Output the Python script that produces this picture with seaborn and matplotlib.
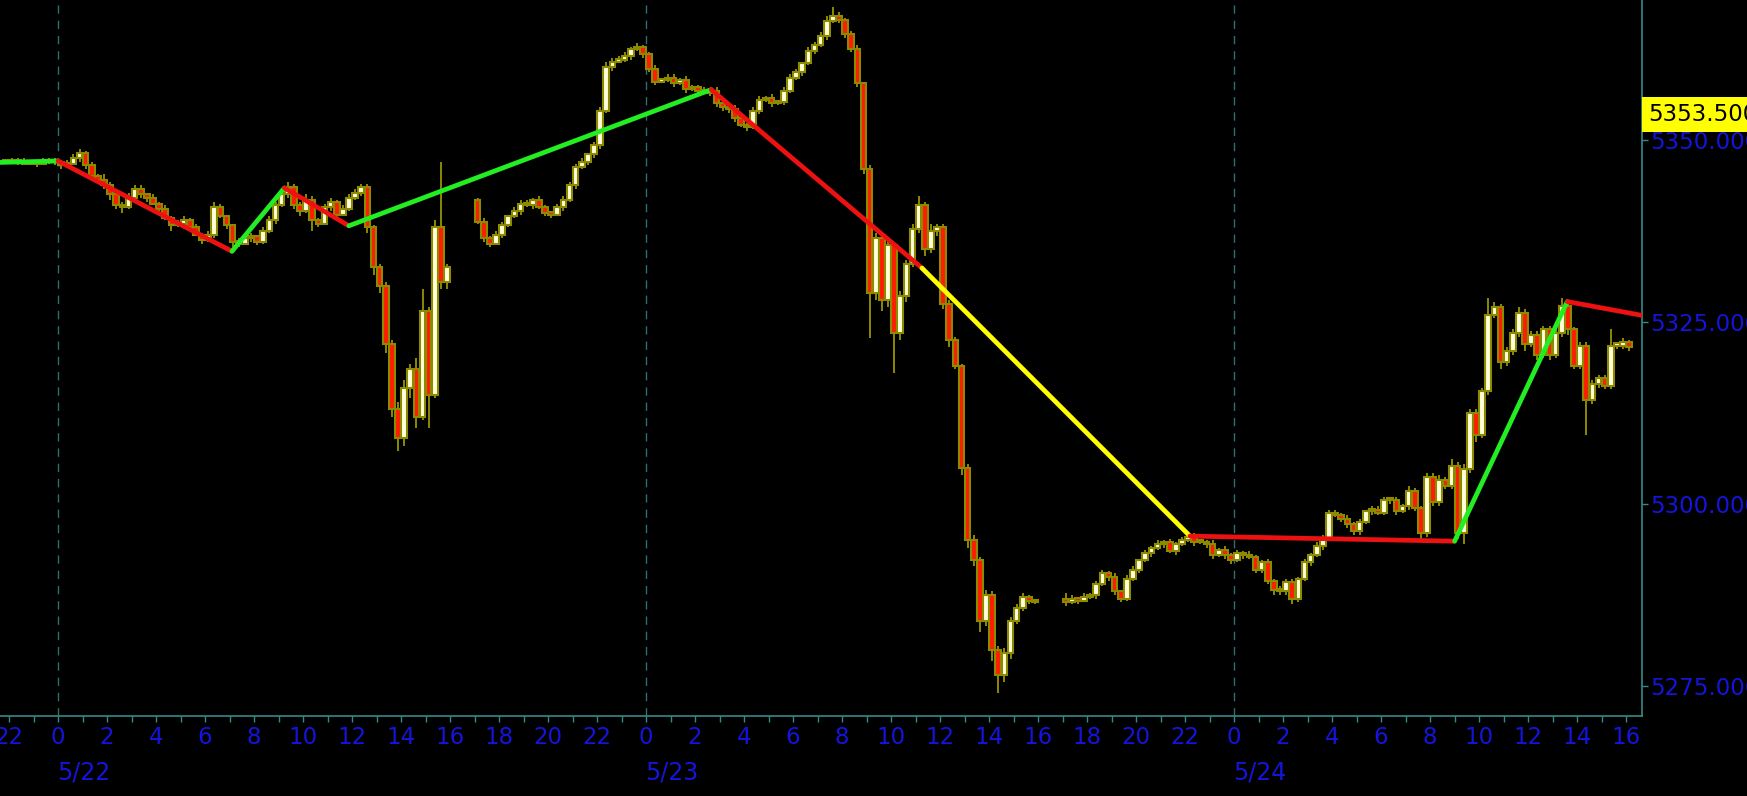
import numpy as np
import pandas as pd
import matplotlib
matplotlib.use("Agg")
import matplotlib.pyplot as plt
import matplotlib.transforms as mtransforms
import seaborn as sns

# 15 minute candles, hours counted from 5/22 00:00
# session 1: 5/21 21:45 -> 5/22 16:00
start_a = -2.25
open_a = 5347.0
close_a = [5347.0,
    5347.25, 5347.0, 5346.75, 5347.0,
    5346.75, 5347.0, 5347.25, 5347.0,
    5346.5, 5346.75, 5347.5, 5348.25,
    5346.5, 5345.0, 5344.5, 5343.75,
    5342.5, 5341.0, 5340.75, 5342.0,
    5343.25, 5342.5, 5342.0, 5341.25,
    5340.5, 5339.25, 5338.25, 5338.5,
    5339.0, 5338.0, 5337.0, 5336.25,
    5337.0, 5340.75, 5339.5, 5338.25,
    5336.0, 5335.75, 5336.5, 5336.75,
    5336.0, 5337.5, 5339.0, 5341.0,
    5342.5, 5343.5, 5341.0, 5340.25,
    5341.75, 5339.0, 5338.5, 5340.75,
    5341.5, 5339.75, 5340.5, 5342.0,
    5342.75, 5343.5, 5338.0, 5332.5,
    5330.0, 5322.0, 5313.0, 5309.0,
    5316.0, 5318.5, 5312.0, 5326.5,
    5315.0, 5338.0, 5330.5, 5332.5]
wick_up_a = [0.25,
    0.25, 0.25, 0.5, 0.25,
    0.25, 0.5, 0.25, 0.25,
    0.25, 0.5, 0.5, 0.5,
    0.25, 0.5, 0.25, 0.75,
    0.5, 0.25, 0.5, 0.75,
    0.5, 0.5, 0.25, 0.5,
    0.25, 0.5, 0.25, 0.5,
    0.5, 0.25, 0.5, 0.25,
    0.5, 0.75, 0.5, 0.25,
    0.25, 0.5, 0.25, 0.5,
    0.25, 0.5, 0.5, 0.5,
    0.5, 0.75, 0.5, 0.5,
    0.75, 0.5, 0.25, 0.5,
    0.5, 0.25, 0.5, 0.5,
    0.5, 0.5, 0.5, 0.25,
    0.5, 0.5, 0.5, 1.0,
    1.0, 0.75, 1.5, 3.0,
    0.5, 1.0, 9.0, 0.5]
wick_dn_a = [0.25,
    0.25, 0.5, 0.25, 0.25,
    0.5, 0.25, 0.25, 0.5,
    0.5, 0.25, 0.25, 0.5,
    0.5, 0.25, 0.5, 0.5,
    0.75, 0.5, 0.75, 0.25,
    0.25, 0.5, 0.5, 0.25,
    0.5, 0.25, 0.75, 0.25,
    0.5, 0.5, 0.25, 0.5,
    0.25, 0.5, 0.25, 0.5,
    0.75, 0.5, 0.25, 0.5,
    0.5, 0.25, 0.25, 0.5,
    0.25, 0.5, 0.5, 0.75,
    0.25, 1.5, 0.5, 0.25,
    0.5, 0.5, 0.25, 0.25,
    0.25, 0.5, 0.75, 1.0,
    1.0, 1.25, 1.0, 1.75,
    1.0, 1.5, 1.5, 0.5,
    4.5, 0.5, 1.0, 1.0]

# session 2: 5/22 17:00 -> 5/23 16:00
start_b = 17.0
open_b = 5341.75
close_b = [
    5338.75, 5336.5, 5335.75, 5337.0,
    5338.25, 5339.5, 5340.25, 5341.25,
    5341.0, 5341.75, 5340.75, 5340.0,
    5339.75, 5340.75, 5341.75, 5343.75,
    5346.25, 5347.0, 5348.0, 5349.25,
    5354.0, 5360.0, 5360.75, 5361.0,
    5361.5, 5362.5, 5362.75, 5361.75,
    5359.75, 5358.0, 5358.25, 5358.5,
    5357.75, 5358.25, 5357.0, 5357.25,
    5356.75, 5356.5, 5356.75, 5355.0,
    5354.5, 5354.25, 5353.0, 5352.0,
    5351.75, 5354.0, 5355.5, 5355.75,
    5355.0, 5355.25, 5356.75, 5358.5,
    5359.25, 5360.5, 5362.25, 5363.0,
    5364.25, 5366.25, 5367.0, 5366.5,
    5364.5, 5362.5, 5357.75, 5346.0,
    5329.0, 5336.5, 5328.0, 5335.5,
    5323.5, 5328.5, 5333.0, 5337.75,
    5341.0, 5335.0, 5337.5, 5338.0,
    5327.5, 5322.5, 5319.0, 5305.0,
    5295.0, 5292.25, 5284.0, 5287.5,
    5280.0, 5276.5, 5279.5, 5284.0,
    5285.75, 5287.25, 5286.75, 5286.5]
wick_up_b = [
    0.25, 0.5, 0.25, 0.5,
    0.5, 0.25, 0.5, 0.5,
    0.5, 0.25, 0.5, 0.25,
    0.25, 0.5, 0.5, 0.5,
    0.5, 0.5, 0.25, 0.5,
    0.5, 0.75, 0.5, 0.5,
    0.5, 0.25, 0.5, 0.25,
    0.25, 0.5, 0.25, 0.5,
    0.5, 0.25, 0.5, 0.25,
    0.25, 0.5, 0.25, 0.5,
    0.5, 0.25, 0.5, 0.5,
    0.25, 0.5, 0.5, 0.25,
    0.5, 0.25, 0.5, 0.5,
    0.5, 0.25, 0.5, 0.5,
    0.5, 0.75, 1.25, 0.5,
    0.25, 0.5, 0.5, 0.25,
    0.5, 0.75, 0.5, 0.75,
    0.5, 0.75, 0.5, 0.75,
    1.25, 0.5, 1.0, 0.5,
    0.5, 0.5, 0.5, 0.25,
    0.5, 0.75, 0.5, 0.75,
    0.5, 0.5, 0.75, 0.5,
    0.5, 0.5, 0.25, 0.25]
wick_dn_b = [
    0.25, 0.5, 0.5, 0.25,
    0.5, 0.25, 0.25, 0.5,
    0.25, 0.5, 0.25, 0.5,
    0.5, 0.25, 0.5, 0.25,
    0.5, 0.25, 0.5, 0.5,
    0.5, 0.25, 0.5, 0.25,
    0.25, 0.5, 0.25, 0.5,
    0.5, 0.5, 0.25, 0.25,
    0.5, 0.25, 0.5, 0.25,
    0.5, 0.25, 0.5, 0.5,
    0.5, 0.5, 0.5, 0.25,
    0.5, 0.25, 0.5, 0.25,
    0.5, 0.25, 0.5, 0.25,
    0.25, 0.5, 0.25, 0.5,
    0.25, 0.5, 0.25, 0.5,
    0.5, 0.5, 0.5, 0.75,
    6.25, 1.0, 1.5, 1.0,
    5.5, 1.0, 0.75, 0.5,
    0.5, 1.0, 0.5, 0.75,
    0.75, 1.0, 0.5, 1.0,
    1.0, 0.75, 1.5, 0.75,
    1.5, 2.5, 1.0, 0.75,
    0.5, 0.5, 0.5, 0.25]

# session 3: 5/23 17:00 -> 5/24 16:00
start_c = 41.0
open_c = 5287.0
close_c = [
    5286.5, 5287.0, 5286.75, 5287.25,
    5287.5, 5289.0, 5290.5, 5290.0,
    5288.0, 5287.0, 5289.75, 5291.0,
    5292.25, 5293.25, 5294.0, 5294.5,
    5294.75, 5293.5, 5294.5, 5295.0,
    5295.5, 5294.75, 5294.75, 5294.5,
    5293.0, 5293.75, 5293.0, 5292.25,
    5293.25, 5293.0, 5292.75, 5291.0,
    5292.0, 5289.5, 5288.25, 5288.0,
    5289.25, 5287.0, 5289.75, 5292.0,
    5293.0, 5294.25, 5295.25, 5298.75,
    5298.5, 5298.0, 5297.25, 5296.25,
    5297.5, 5299.0, 5299.25, 5298.75,
    5300.5, 5300.5, 5299.0, 5299.75,
    5301.75, 5299.5, 5296.0, 5303.75,
    5300.25, 5303.25, 5302.5, 5305.25,
    5296.0, 5304.75, 5312.5, 5309.5,
    5315.5, 5326.0, 5327.0, 5319.5,
    5321.0, 5323.5, 5326.25, 5322.0,
    5323.25, 5320.5, 5324.0, 5320.5,
    5323.5, 5327.25, 5324.0, 5319.0,
    5321.75, 5314.25, 5316.5, 5317.25,
    5316.25, 5321.75, 5321.75, 5322.25,
    5321.5]
wick_up_c = [
    0.75, 0.5, 0.25, 0.5,
    0.25, 0.5, 0.5, 0.25,
    0.5, 0.25, 0.5, 0.5,
    0.25, 0.5, 0.25, 0.5,
    0.25, 0.5, 0.25, 0.5,
    0.25, 0.5, 0.25, 0.25,
    0.5, 0.25, 0.5, 0.25,
    0.5, 0.25, 0.5, 0.25,
    0.25, 0.5, 0.25, 0.5,
    0.5, 0.5, 0.25, 0.5,
    0.25, 0.5, 0.5, 0.5,
    0.5, 0.25, 0.5, 0.25,
    0.5, 0.25, 0.5, 0.5,
    0.5, 0.25, 0.5, 0.25,
    0.75, 0.5, 0.25, 0.5,
    0.5, 0.75, 0.5, 1.0,
    0.5, 0.75, 0.5, 0.5,
    0.5, 2.25, 0.75, 0.5,
    0.5, 0.5, 0.75, 0.5,
    0.5, 0.5, 0.5, 0.5,
    0.5, 1.0, 0.5, 0.25,
    0.5, 0.5, 0.5, 0.5,
    0.5, 2.25, 0.5, 0.5,
    0.25]
wick_dn_c = [
    0.5, 0.25, 0.5, 0.25,
    0.25, 0.5, 0.25, 0.5,
    0.5, 0.5, 0.25, 0.25,
    0.5, 0.25, 0.5, 0.25,
    0.5, 0.25, 0.5, 0.25,
    0.25, 0.5, 0.25, 0.5,
    0.5, 0.25, 0.5, 0.5,
    0.25, 0.5, 0.25, 0.5,
    0.5, 0.5, 0.75, 0.5,
    0.5, 0.75, 0.5, 0.25,
    0.5, 0.25, 0.5, 0.25,
    0.25, 0.5, 0.5, 0.5,
    0.5, 0.25, 0.5, 0.25,
    0.25, 0.5, 0.5, 0.25,
    0.5, 0.5, 0.75, 0.5,
    0.5, 0.5, 0.5, 0.5,
    0.75, 1.5, 0.5, 1.0,
    0.5, 0.5, 0.5, 1.0,
    0.5, 0.5, 0.5, 1.0,
    0.5, 0.75, 0.5, 0.75,
    0.5, 0.5, 0.75, 0.5,
    0.5, 4.75, 0.5, 0.5,
    0.5, 0.5, 0.5, 0.5,
    0.5]

# zigzag swing points
zz_hour = [-2.37, 0.0, 7.1, 9.24, 11.87, 26.66, 35.26, 46.2, 57.0, 61.6, 64.65]
zz_price = [5346.9, 5347.1, 5334.7, 5343.4, 5338.2, 5356.9, 5332.4, 5295.6, 5294.9, 5327.8, 5325.9]
zz_colors = ["#22ee22", "#ee1111", "#22ee22", "#ee1111", "#22ee22",
             "#ee1111", "#ffff00", "#ee1111", "#22ee22", "#ee1111"]

y_ticks = [5275, 5300, 5325, 5350]
day_hours = [0, 24, 48]
day_labels = ["5/22", "5/23", "5/24"]
marker_price = 5353.5

TEAL = "#358a8a"
BLUE = "#1414dc"
OLIVE = "#8c8a00"
CREAM = "#ffffdc"
RED = "#ff1c00"
FS = 16.5

sns.set_style("dark", {"axes.facecolor": "black", "figure.facecolor": "black",
                       "axes.edgecolor": TEAL, "axes.grid": False})
plt.rcParams["font.family"] = ["DejaVu Sans"]


def session(start, first_open, closes, ups, dns):
    c = np.array(closes)
    o = np.r_[first_open, c[:-1]]
    t = start + 0.25 * np.arange(len(c)) + 0.125
    return pd.DataFrame({"t": t, "o": o, "c": c,
                         "hi": np.maximum(o, c) + np.array(ups),
                         "lo": np.minimum(o, c) - np.array(dns)})


bars = pd.concat([session(start_a, open_a, close_a, wick_up_a, wick_dn_a),
                  session(start_b, open_b, close_b, wick_up_b, wick_dn_b),
                  session(start_c, open_c, close_c, wick_up_c, wick_dn_c)],
                 ignore_index=True)

fig = plt.figure(figsize=(17.47, 7.96), dpi=100)
ax = fig.add_axes([0, 0.1005, 0.9399, 0.8995])

for h in day_hours:
    ax.axvline(h, color="#2c7070", lw=1, ls=(0, (6, 5)), zorder=1)

ax.vlines(bars.t, bars.lo, bars.hi, color=OLIVE, lw=1.4, zorder=2)
is_up = bars.c >= bars.o
ax.bar(bars.t, np.maximum((bars.c - bars.o).abs(), 0.3), width=0.23,
       bottom=np.minimum(bars.o, bars.c), color=np.where(is_up, CREAM, RED),
       edgecolor=OLIVE, linewidth=1.5, zorder=3)

# zigzag legs
rows = []
for i, col in enumerate(zz_colors):
    rows.append({"h": zz_hour[i], "p": zz_price[i], "leg": i})
    rows.append({"h": zz_hour[i + 1], "p": zz_price[i + 1], "leg": i})
legs = pd.DataFrame(rows)
sns.lineplot(data=legs, x="h", y="p", hue="leg", palette=dict(enumerate(zz_colors)),
             estimator=None, sort=False, legend=False, lw=3.4, ax=ax, zorder=4)

ax.set_xlim(-2.37, 64.65)
ax.set_ylim(5270.9, 5369.2)
ax.set_xlabel("")
ax.set_ylabel("")

ax.spines["left"].set_visible(False)
ax.spines["top"].set_visible(False)
for s in ["right", "bottom"]:
    ax.spines[s].set_color(TEAL)
    ax.spines[s].set_linewidth(1.2)

ax.yaxis.tick_right()
ax.set_yticks(y_ticks)
ax.set_yticklabels(["%.3f" % v for v in y_ticks])
ax.tick_params(axis="y", colors=TEAL, labelcolor=BLUE, labelsize=FS,
               length=4, width=1, pad=2, left=False, right=True)

hour_ticks = np.arange(-2, 65, 2)
ax.set_xticks(hour_ticks)
ax.set_xticklabels([str(int(h % 24)) for h in hour_ticks])
ax.set_xticks(np.arange(-2, 65, 1), minor=True)
ax.tick_params(axis="x", which="both", colors=TEAL, labelcolor=BLUE, labelsize=FS,
               length=4, width=1, pad=3, bottom=True)

for h, lab in zip(day_hours, day_labels):
    ax.annotate(lab, xy=(h, 0), xycoords=("data", "axes fraction"),
                xytext=(-1, -32), textcoords="offset points",
                ha="left", va="top", color=BLUE, fontsize=FS + 0.5)

# price marker box on the right scale
trans = mtransforms.blended_transform_factory(ax.transAxes, ax.transData)
trans = mtransforms.offset_copy(trans, fig=fig, x=6, y=0, units="dots")
ax.text(1.0, marker_price, "%.3f" % marker_price, transform=trans,
        ha="left", va="center", color="black", fontsize=FS, clip_on=False,
        bbox=dict(boxstyle="square,pad=0.25", fc="#ffff00", ec="none"))

fig.savefig("out.png", dpi=100, facecolor="black")
